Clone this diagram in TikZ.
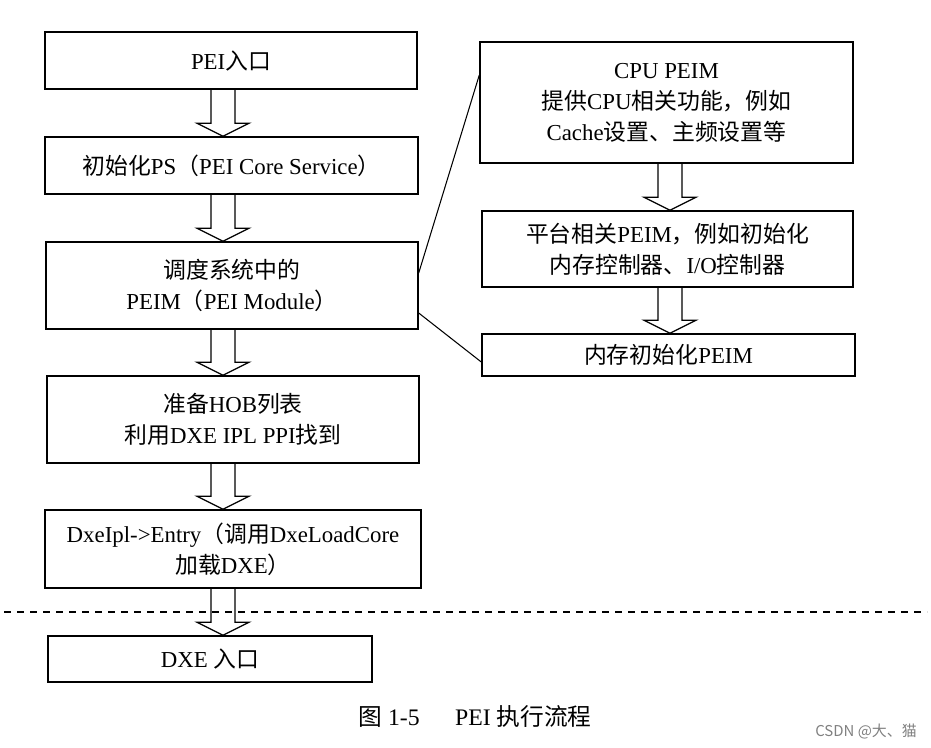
\documentclass[tikz,border=0pt]{standalone}
\usepackage{fontspec}
\setmainfont{Liberation Serif}
\newfontfamily\cjk{Noto Sans CJK SC}
\newcommand{\zh}[1]{{\cjk #1}}
\newcommand{\px}{0.02cm}
\usetikzlibrary{calc,positioning}
% hollow block arrow: axis, upper node, lower node
\newcommand{\hollowarrow}[3]{%
  \draw[flow] ($(#1|-#2.south)+(-12,0)$) -- ($(#1|-#3.north)+(-12,-13)$) -- ($(#1|-#3.north)+(-26,-13)$) -- (#1|-#3.north) -- ($(#1|-#3.north)+(26,-13)$) -- ($(#1|-#3.north)+(12,-13)$) -- ($(#1|-#2.south)+(12,0)$);}

\begin{document}
\begin{tikzpicture}[x=\px, y=-\px,
  box/.style={draw, line width=0.8pt, align=center, inner sep=0pt, font=\fontsize{13}{17.6}\selectfont},
  flow/.style={line width=0.7pt, line join=miter},
  link/.style={line width=0.6pt}]
\useasboundingbox (0,0) rectangle (931,748);

\coordinate (axL) at (223,0); \coordinate (axR) at (670,0);

\node[box, minimum width=372*\px, minimum height=57*\px] (peientry) at (231,60.5) {PEI\zh{入口}};
\node[box, minimum width=373*\px, minimum height=57*\px] (initps) at (231.5,165.5) {\zh{初始化}PS\zh{（}PEI Core Service\zh{）}};
\node[box, minimum width=372*\px, minimum height=87*\px] (dispatch) at (232,285.5) {\zh{调度系统中的}\\PEIM\zh{（}PEI Module\zh{）}};
\node[box, minimum width=372*\px, minimum height=87*\px] (hob) at (233,419.5) {\zh{准备}HOB\zh{列表}\\\zh{利用}DXE IPL PPI\zh{找到}};
\node[box, minimum width=376*\px, minimum height=78*\px] (dxeipl) at (233,549) {DxeIpl->Entry\zh{（调用}DxeLoadCore\\\zh{加载}DXE\zh{）}};
\node[box, minimum width=324*\px, minimum height=46*\px] (dxeentry) at (210,659) {DXE \zh{入口}};

\node[box, minimum width=373*\px, minimum height=121*\px] (cpupeim) at (666.5,102.5) {CPU PEIM\\\zh{提供}CPU\zh{相关功能，例如}\\Cache\zh{设置、主频设置等}};
\node[box, minimum width=371*\px, minimum height=76*\px] (platpeim) at (667.5,249) {\zh{平台相关}PEIM\zh{，例如初始化}\\\zh{内存控制器、}I/O\zh{控制器}};
\node[box, minimum width=373*\px, minimum height=42*\px] (mempeim) at (668.5,355) {\zh{内存初始化}PEIM};

\hollowarrow{axL}{peientry}{initps}
\hollowarrow{axL}{initps}{dispatch}
\hollowarrow{axL}{dispatch}{hob}
\hollowarrow{axL}{hob}{dxeipl}
\hollowarrow{axL}{dxeipl}{dxeentry}
\hollowarrow{axR}{cpupeim}{platpeim}
\hollowarrow{axR}{platpeim}{mempeim}

\draw[link] ($(dispatch.east)+(0,-12.5)$) -- ($(cpupeim.west)+(0,-27.5)$);
\draw[link] ($(dispatch.east)+(0,27.5)$) -- ($(mempeim.west)+(0,7)$);

\coordinate (cutL) at (4,612); \coordinate (cutR) at (927,612);
\draw[line width=0.6pt, dash pattern=on 7*\px off 6*\px] (cutL) -- (cutR);

\node[font=\fontsize{13.5}{16}\selectfont] (caption) at (475,717) {\zh{图} 1-5\quad\ \ PEI \zh{执行流程}};
\node[font=\cjk\fontsize{8.5}{10}\selectfont, text=gray] (mark) at (866,732) {CSDN @大、猫};
\end{tikzpicture}
\end{document}
